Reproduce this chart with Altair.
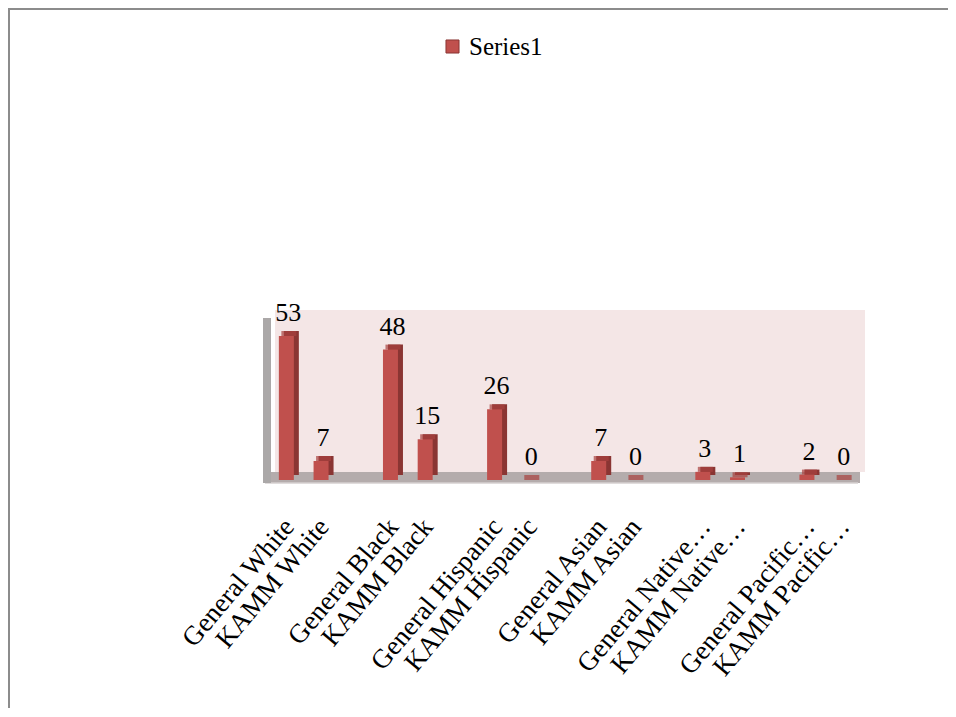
import altair as alt
import pandas as pd

# ---- data ----
categories = ["General White", "KAMM White",
              "General Black", "KAMM Black",
              "General Hispanic", "KAMM Hispanic",
              "General Asian", "KAMM Asian",
              "General Native…", "KAMM Native…",
              "General Pacific…", "KAMM Pacific…"]
values = [53, 7, 48, 15, 26, 0, 7, 0, 3, 1, 2, 0]
series_name = "Series1"

# category slots: every pair is followed by an empty slot (as in the original sheet)
spacers = [" " * (i + 1) for i in range(5)]
domain = []
for i in range(0, len(categories), 2):
    domain += categories[i:i + 2]
    if i // 2 < len(spacers):
        domain.append(spacers[i // 2])

df = pd.DataFrame({"cat": categories, "val": values, "series": [series_name] * len(values)})
one = pd.DataFrame({"a": [0]})

FONT = "Liberation Serif"
W, H = 590, 163

x = alt.X("cat:N", scale=alt.Scale(domain=domain, paddingInner=0, paddingOuter=0),
          sort=domain,
          axis=alt.Axis(title=None, domain=False, ticks=False, tickSize=0, labelAngle=-50,
                        labelAlign="right", labelBaseline="middle", labelFont=FONT,
                        labelFontSize=27, labelColor="black", labelPadding=42,
                        labelOffset=3, labelLimit=300, labelOverlap=False))
y = alt.Y("val:Q", scale=alt.Scale(domain=[0, 60], nice=False), axis=None)

base = alt.Chart(df)

wall = alt.Chart(one).mark_rect(color="#F4E6E6").encode(
    x=alt.value(6), x2=alt.value(596), y=alt.value(-7), y2=alt.value(155))
floor = alt.Chart(one).mark_rect(color="#B4ACAC").encode(
    x=alt.value(-4), x2=alt.value(591), y=alt.value(155), y2=alt.value(166))
floor_edge = alt.Chart(one).mark_rule(color="#D6D0D0", strokeWidth=1.5).encode(
    x=alt.value(-4), x2=alt.value(589), y=alt.value(166))
left_wall = alt.Chart(one).mark_rect(color="#ABA8A8").encode(
    x=alt.value(-6), x2=alt.value(2), y=alt.value(1), y2=alt.value(166))
frame_top = alt.Chart(one).mark_rule(color="#8C8C8C", strokeWidth=2).encode(
    x=alt.value(-262), x2=alt.value(700), y=alt.value(-308))
frame_left = alt.Chart(one).mark_rule(color="#8C8C8C", strokeWidth=2).encode(
    x=alt.value(-260), y=alt.value(-310), y2=alt.value(400))

side = base.mark_bar(size=15, xOffset=5, yOffset=-5, y2Offset=-5, color="#8A3533").encode(x=x, y=y)
top = base.mark_tick(orient="horizontal", size=15, thickness=5, xOffset=2.5, yOffset=-2.5,
                     color="#A8423F").encode(x=x, y=y)
front = base.mark_bar(size=15).encode(
    x=x, y=y,
    color=alt.Color("series:N", scale=alt.Scale(range=["#C0504D"]),
                    legend=alt.Legend(title=None, orient="none", legendX=171, legendY=-283,
                                      symbolType="square", symbolSize=170,
                                      symbolStrokeColor="#8A3533", symbolStrokeWidth=1,
                                      labelFont=FONT, labelFontSize=25, labelColor="black",
                                      padding=0)))
labels = base.mark_text(font=FONT, fontSize=26, color="black", baseline="alphabetic",
                        dy=-15, dx=2).encode(x=x, y=y, text="val:Q")

chart = alt.layer(wall, floor, floor_edge, left_wall, side, top, front, labels,
                  frame_top, frame_left).properties(
    width=W, height=H,
    autosize=alt.AutoSizeParams(type="none"),
    padding={"left": 261, "top": 309, "right": 89, "bottom": 228},
    background="white",
).configure_view(stroke=None)

chart.save("out.html", embed_options={"renderer": "svg", "actions": False})
